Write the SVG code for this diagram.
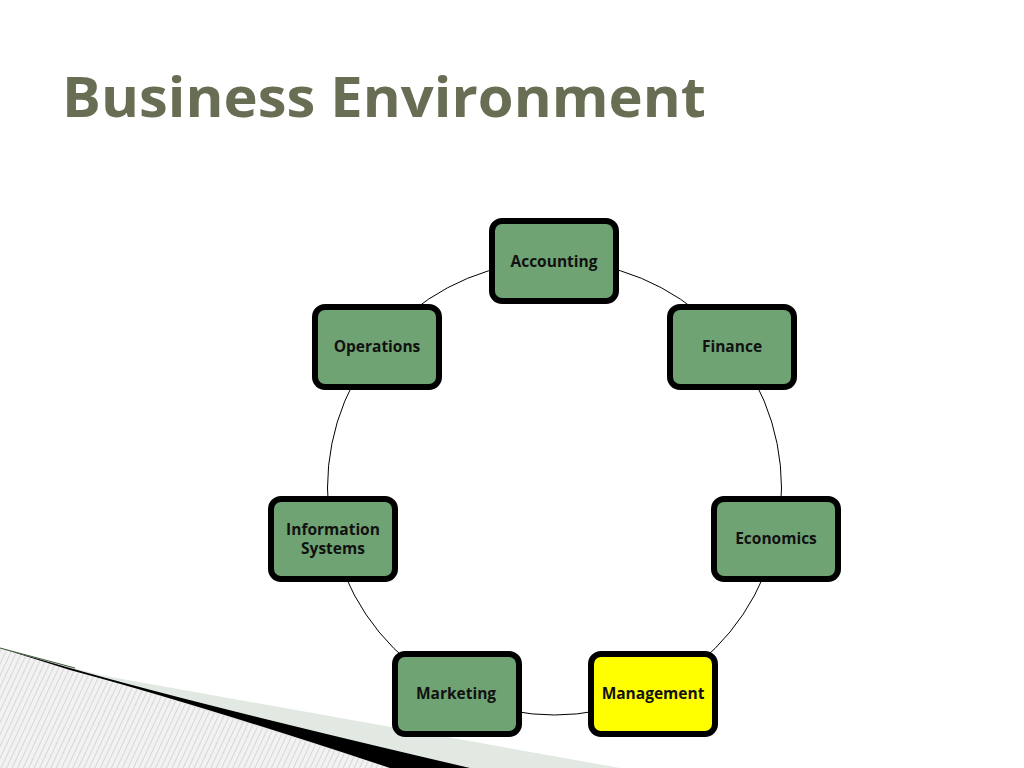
<svg xmlns="http://www.w3.org/2000/svg" width="1024" height="768" viewBox="0 0 1024 768">
<defs>
<pattern id="hatch" width="5" height="5" patternUnits="userSpaceOnUse" patternTransform="rotate(25)">
<rect width="5" height="5" fill="#f2f2f2"/>
<line x1="0" y1="0" x2="0" y2="5" stroke="#c4c4c4" stroke-width="1.2"/>
</pattern>
</defs>
<style>
.n rect{fill:#70a373;stroke:#000;stroke-width:6}
.n text{font-family:"Open Sans","DejaVu Sans",sans-serif;font-weight:bold;font-size:15.5px;fill:#111;text-anchor:middle}
</style>
<rect width="1024" height="768" fill="#fff"/>
<polygon points="0,648 100,675 620,768 0,768" fill="#e2e9e2"/>
<polygon points="0,648 60,665 390,768 0,768" fill="url(#hatch)"/>
<path d="M0,648 L70,668 Q200,705 470,768 L390,768 Q200,705 70,670 Z" fill="#000"/>
<line x1="0" y1="648" x2="75" y2="668" stroke="#3a5a3a" stroke-width="1"/>
<text x="62" y="117" font-family="'Open Sans','DejaVu Sans',sans-serif" font-weight="bold" font-size="55" fill="#686e54" textLength="644" lengthAdjust="spacingAndGlyphs">Business Environment</text>
<g id="connectors">
<circle cx="554.5" cy="488" r="227" fill="none" stroke="#000" stroke-width="1"/>
</g>
<g id="accounting" class="n"><rect x="492" y="221" width="124" height="80" rx="10"/><text x="554" y="267">Accounting</text></g>
<g id="finance" class="n"><rect x="670" y="307" width="124" height="80" rx="10"/><text x="732" y="352">Finance</text></g>
<g id="economics" class="n"><rect x="714" y="499" width="124" height="80" rx="10"/><text x="776" y="544">Economics</text></g>
<g id="management" class="n"><rect x="591" y="654" width="124" height="80" rx="10" style="fill:#ffff00"/><text x="653" y="699">Management</text></g>
<g id="marketing" class="n"><rect x="395" y="654" width="124" height="80" rx="10"/><text x="456" y="699">Marketing</text></g>
<g id="information-systems" class="n"><rect x="271" y="499" width="124" height="80" rx="10"/><text x="333" y="535">Information</text><text x="333" y="554">Systems</text></g>
<g id="operations" class="n"><rect x="315" y="307" width="124" height="80" rx="10"/><text x="377" y="352">Operations</text></g>
</svg>
